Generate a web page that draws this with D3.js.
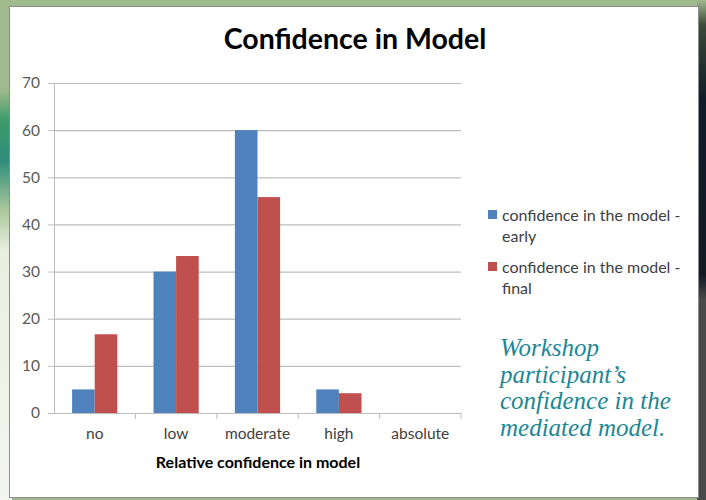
<!DOCTYPE html>
<html>
<head>
<meta charset="utf-8">
<script src="https://cdn.jsdelivr.net/npm/d3@7"></script>
<style>
  html, body { margin: 0; padding: 0; background: #9fba8c; }
  svg { display: block; }
</style>
</head>
<body>
<svg id="chart-svg" width="706" height="500"></svg>
<script>
// Chart values
const categories = ["no", "low", "moderate", "high", "absolute"];
const seriesNames = ["confidence in the model - early", "confidence in the model - final"];
const earlyValues = [5, 30, 60, 5, 0];
const finalValues = [16.7, 33.3, 45.8, 4.2, 0];
const yTicks = [0, 10, 20, 30, 40, 50, 60, 70];
const noteLines = ["Workshop", "participant\u2019s", "confidence in the", "mediated model."];

const colors = ["#4f81bd", "#c0504d"];
const font = "Lato, 'Open Sans', sans-serif";

const svg = d3.select("#chart-svg");

// Slide background bits around the chart frame
const defs = svg.append("defs");
const leftGrad = defs.append("linearGradient").attr("id", "leftGrad")
    .attr("x1", 0).attr("y1", 0).attr("x2", 0).attr("y2", 1);
leftGrad.append("stop").attr("offset", "0").attr("stop-color", "#9fba8c");
leftGrad.append("stop").attr("offset", "0.18").attr("stop-color", "#9fba8c");
leftGrad.append("stop").attr("offset", "0.24").attr("stop-color", "#3f9a6a");
leftGrad.append("stop").attr("offset", "0.32").attr("stop-color", "#2e8c7a");
leftGrad.append("stop").attr("offset", "0.42").attr("stop-color", "#a9c79a");
leftGrad.append("stop").attr("offset", "0.5").attr("stop-color", "#e8efe0");
leftGrad.append("stop").attr("offset", "1").attr("stop-color", "#f4f6f0");
svg.append("rect").attr("x", 0).attr("y", 0).attr("width", 12).attr("height", 500)
    .attr("fill", "url(#leftGrad)");

const rightGrad = defs.append("linearGradient").attr("id", "rightGrad")
    .attr("x1", 0).attr("y1", 0).attr("x2", 0).attr("y2", 1);
rightGrad.append("stop").attr("offset", "0").attr("stop-color", "#9fba8c");
rightGrad.append("stop").attr("offset", "0.05").attr("stop-color", "#3c4a38");
rightGrad.append("stop").attr("offset", "0.2").attr("stop-color", "#0f1b28");
rightGrad.append("stop").attr("offset", "0.55").attr("stop-color", "#121a24");
rightGrad.append("stop").attr("offset", "0.6").attr("stop-color", "#4a4a4a");
rightGrad.append("stop").attr("offset", "1").attr("stop-color", "#4a4a4a");
svg.append("rect").attr("x", 697).attr("y", 0).attr("width", 9).attr("height", 500)
    .attr("fill", "url(#rightGrad)");

// Chart frame
svg.append("rect")
    .attr("x", 9.5).attr("y", 6.5)
    .attr("width", 689).attr("height", 491)
    .attr("fill", "#ffffff")
    .attr("stroke", "#8c8c8c")
    .attr("stroke-width", 1);

const margin = { left: 54, right: 461, top: 83, bottom: 413 };

const xScale = d3.scaleBand()
    .domain(categories)
    .range([margin.left, margin.right])
    .paddingInner(0)
    .paddingOuter(0);

const xInner = d3.scaleBand()
    .domain([0, 1])
    .range([0, xScale.bandwidth()])
    .paddingInner(0)
    .paddingOuter(0.8);

const yScale = d3.scaleLinear()
    .domain([0, 70])
    .range([margin.bottom, margin.top]);

// Y gridlines
svg.append("g")
    .attr("transform", "translate(" + margin.left + ",0)")
    .call(d3.axisLeft(yScale).tickValues(yTicks)
        .tickSize(-(margin.right - margin.left)).tickFormat(""))
    .call(g => g.select(".domain").remove())
    .call(g => g.selectAll("line").attr("stroke", "#bdbdbd").attr("stroke-width", 1.2));

// Y axis
svg.append("g")
    .attr("transform", "translate(" + margin.left + ",0)")
    .call(d3.axisLeft(yScale).tickValues(yTicks).tickSize(6).tickPadding(8))
    .call(g => g.select(".domain").attr("stroke", "#bdbdbd"))
    .call(g => g.selectAll("line").attr("stroke", "#bdbdbd"))
    .call(g => g.selectAll("text")
        .attr("font-family", font)
        .attr("font-size", 15.5)
        .attr("fill", "#595959"));

// Bars
const groups = svg.append("g").selectAll("g")
    .data(categories)
    .join("g")
    .attr("transform", d => "translate(" + xScale(d) + ",0)");

[earlyValues, finalValues].forEach((vals, s) => {
    groups.append("rect")
        .attr("x", xInner(s))
        .attr("width", xInner.bandwidth())
        .attr("y", (d, i) => yScale(vals[i]))
        .attr("height", (d, i) => yScale(0) - yScale(vals[i]))
        .attr("fill", colors[s]);
});

// X axis with ticks between categories
svg.append("g")
    .attr("transform", "translate(0," + margin.bottom + ")")
    .call(d3.axisBottom(xScale).tickSize(0).tickPadding(15))
    .call(g => g.select(".domain").attr("stroke", "#bdbdbd"))
    .call(g => g.selectAll("text")
        .attr("font-family", font)
        .attr("font-size", 15.5)
        .attr("fill", "#404040"));

svg.append("g")
    .selectAll("line")
    .data(categories)
    .join("line")
    .attr("x1", d => xScale(d) + xScale.bandwidth())
    .attr("x2", d => xScale(d) + xScale.bandwidth())
    .attr("y1", margin.bottom)
    .attr("y2", margin.bottom + 6)
    .attr("stroke", "#bdbdbd");

// Title
svg.append("text")
    .attr("x", 355)
    .attr("y", 49)
    .attr("text-anchor", "middle")
    .attr("font-family", font)
    .attr("font-weight", "bold")
    .attr("font-size", 28.5)
    .attr("fill", "#000")
    .text("Confidence in Model");

// Axis title
svg.append("text")
    .attr("x", 258)
    .attr("y", 468)
    .attr("text-anchor", "middle")
    .attr("font-family", font)
    .attr("font-weight", "bold")
    .attr("font-size", 16)
    .attr("fill", "#000")
    .text("Relative confidence in model");

// Legend
const legend = svg.append("g").attr("transform", "translate(488,210)");
seriesNames.forEach((name, i) => {
    const row = legend.append("g").attr("transform", "translate(0," + (i * 52) + ")");
    row.append("rect").attr("x", 0).attr("y", 0).attr("width", 9).attr("height", 9)
        .attr("fill", colors[i]);
    const parts = name.split(" - ");
    const t = row.append("text")
        .attr("font-family", font)
        .attr("font-size", 16)
        .attr("fill", "#404040");
    t.append("tspan").attr("x", 14).attr("y", 11).text(parts[0] + " -");
    t.append("tspan").attr("x", 14).attr("y", 32).text(parts[1]);
});

// Side note
const note = svg.append("text")
    .attr("font-family", "'Liberation Serif', 'DejaVu Serif', serif")
    .attr("font-style", "italic")
    .attr("font-size", 25)
    .attr("fill", "#1d8796");
noteLines.forEach((line, i) => {
    note.append("tspan").attr("x", 500).attr("y", 356 + i * 26.5).text(line);
});
</script>
</body>
</html>
